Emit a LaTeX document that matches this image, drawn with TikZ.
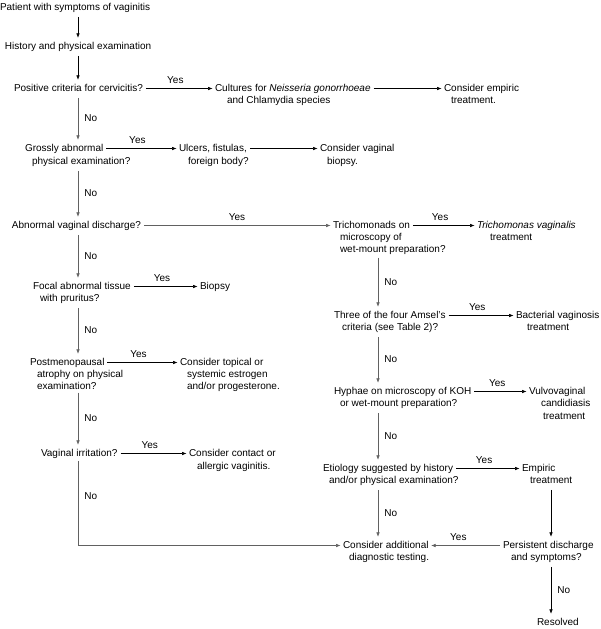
\documentclass[tikz,border=0pt]{standalone}
\usepackage{fontspec}
\setmainfont{Liberation Sans}
\usetikzlibrary{arrows.meta}
\begin{document}
\begin{tikzpicture}[x=1pt,y=-1pt,
  txt/.style={anchor=north west, inner sep=0pt, outer sep=0pt, yshift=8.75pt, align=left, font=\fontsize{10}{12.5}\selectfont},
  lbl/.style={font=\fontsize{10}{12}\selectfont, inner sep=0pt},
  arr/.style={draw=black, line width=0.6pt, -{Latex[length=4.5pt,width=3.6pt]}, shorten <=3pt, shorten >=2.5pt},
  arrg/.style={arr, draw=black!62},
  vno/.style={lbl, right=6pt},
  hyes/.style={lbl, above=5pt, pos=0.45}]
\useasboundingbox (0,0) rectangle (601,629);
\coordinate (L) at (78,0);
\coordinate (R) at (378,0);
\coordinate (RR) at (551,0);
% left column
\node[txt] (P) at (0,10) {\strut Patient with symptoms of vaginitis};
\node[txt] (H) at (5,49) {\strut History and physical examination};
\node[txt] (C) at (14,91) {\strut Positive criteria for cervicitis?};
\node[txt] (Cu) at (215,91) {\strut Cultures for \textit{Neisseria gonorrhoeae}};
\node[txt] (Cub) at (227,103.5) {\strut and Chlamydia species};
\node[txt] (E) at (444,91) {\strut Consider empiric};
\node[txt] (Eb) at (451,103.5) {\strut treatment.};
\node[txt] (G) at (25,151) {\strut Grossly abnormal};
\node[txt] (Gb) at (32,164) {\strut physical examination?};
\node[txt] (U) at (179,151) {\strut Ulcers, fistulas,};
\node[txt] (Ub) at (188,164) {\strut foreign body?};
\node[txt] (B) at (320,151) {\strut Consider vaginal};
\node[txt] (Bb) at (327,164) {\strut biopsy.};
\node[txt] (A) at (12,228) {\strut Abnormal vaginal discharge?};
\node[txt] (F) at (33,289) {\strut Focal abnormal tissue};
\node[txt] (Fb) at (40,301) {\strut with pruritus?};
\node[txt] (Bi) at (200,289) {\strut Biopsy};
\node[txt] (Pm) at (30,365) {\strut Postmenopausal};
\node[txt] (Pmb) at (37,377) {\strut atrophy on physical\\examination?};
\node[txt] (Es) at (180,365) {\strut Consider topical or};
\node[txt] (Esb) at (187,377) {\strut systemic estrogen\\and/or progesterone.};
\node[txt] (VI) at (41,456) {\strut Vaginal irritation?};
\node[txt] (CA) at (189,456) {\strut Consider contact or};
\node[txt] (CAb) at (197,469) {\strut allergic vaginitis.};
% right column
\node[txt] (T) at (333,228) {\strut Trichomonads on};
\node[txt] (Tb) at (340,240) {\strut microscopy of\\wet-mount preparation?};
\node[txt] (TV) at (477,228) {\strut\textit{Trichomonas vaginalis}};
\node[txt] (TVb) at (490,240) {\strut treatment};
\node[txt] (Am) at (334,318) {\strut Three of the four Amsel's};
\node[txt] (Amb) at (342,330) {\strut criteria (see Table 2)?};
\node[txt] (BV) at (516,318) {\strut Bacterial vaginosis};
\node[txt] (BVb) at (527,330) {\strut treatment};
\node[txt] (Hy) at (334,394) {\strut Hyphae on microscopy of KOH};
\node[txt] (Hyb) at (340,406) {\strut or wet-mount preparation?};
\node[txt] (VC) at (529,394) {\strut Vulvovaginal};
\node[txt] (VCb) at (541,406) {\strut candidiasis};
\node[txt] (VCc) at (543,419) {\strut treatment};
\node[txt] (Et) at (323,471) {\strut Etiology suggested by history};
\node[txt] (Etb) at (329,483) {\strut and/or physical examination?};
\node[txt] (Em) at (522,471) {\strut Empiric};
\node[txt] (Emb) at (530,483) {\strut treatment};
\node[txt] (Ad) at (343,548) {\strut Consider additional};
\node[txt] (Adb) at (349,560) {\strut diagnostic testing.};
\node[txt] (Ps) at (503,548) {\strut Persistent discharge};
\node[txt] (Psb) at (511,560) {\strut and symptoms?};
\node[txt] (Rs) at (537,625) {\strut Resolved};
% vertical connectors, left
\draw[arr] (P.south -| L) -- (H.north -| L);
\draw[arr] (H.south -| L) -- (C.north -| L);
\draw[arrg] (C.south -| L) -- node[vno]{No} (G.north -| L);
\draw[arrg] (Gb.south -| L) -- node[vno]{No} (A.north -| L);
\draw[arrg] (A.south -| L) -- node[vno]{No} (F.north -| L);
\draw[arrg] (Fb.south -| L) -- node[vno]{No} (Pm.north -| L);
\draw[arrg] (Pmb.south -| L) -- node[vno]{No} (VI.north -| L);
\draw[arrg, shorten <=1pt] (VI.south -| L) |- node[vno, pos=0.21]{No} (Ad.west);
% vertical connectors, right
\draw[arrg] (Tb.south -| R) -- node[vno]{No} (Am.north -| R);
\draw[arrg] (Amb.south -| R) -- node[vno]{No} (Hy.north -| R);
\draw[arrg] (Hyb.south -| R) -- node[vno]{No} (Et.north -| R);
\draw[arrg] (Etb.south -| R) -- node[vno]{No} (Ad.north -| R);
\draw[arr] (Emb.south -| RR) -- (Ps.north -| RR);
\draw[arr] (Psb.south -| RR) -- node[vno]{No} (Rs.north -| RR);
% horizontal connectors
\draw[arr] (C.east) -- node[hyes]{Yes} (Cu.west);
\draw[arr] (Cu.east) -- (E.west);
\draw[arr] (G.east) -- node[hyes]{Yes} (U.west);
\draw[arr] (U.east) -- (B.west);
\draw[arrg] (A.east) -- node[hyes, pos=0.5]{Yes} (T.west);
\draw[arr] (T.east) -- node[hyes]{Yes} (TV.west);
\draw[arr] (F.east) -- node[hyes]{Yes} (Bi.west);
\draw[arr] (Am.east) -- node[hyes]{Yes} (BV.west);
\draw[arr] (Pm.east) -- node[hyes]{Yes} (Es.west);
\draw[arr] (Hy.east) -- node[hyes]{Yes} (VC.west);
\draw[arr] (VI.east) -- node[hyes]{Yes} (CA.west);
\draw[arr] (Et.east) -- node[hyes]{Yes} (Em.west);
\draw[arrg] (Ps.west) -- node[hyes, pos=0.6]{Yes} (Ad.east);
\end{tikzpicture}
\end{document}
